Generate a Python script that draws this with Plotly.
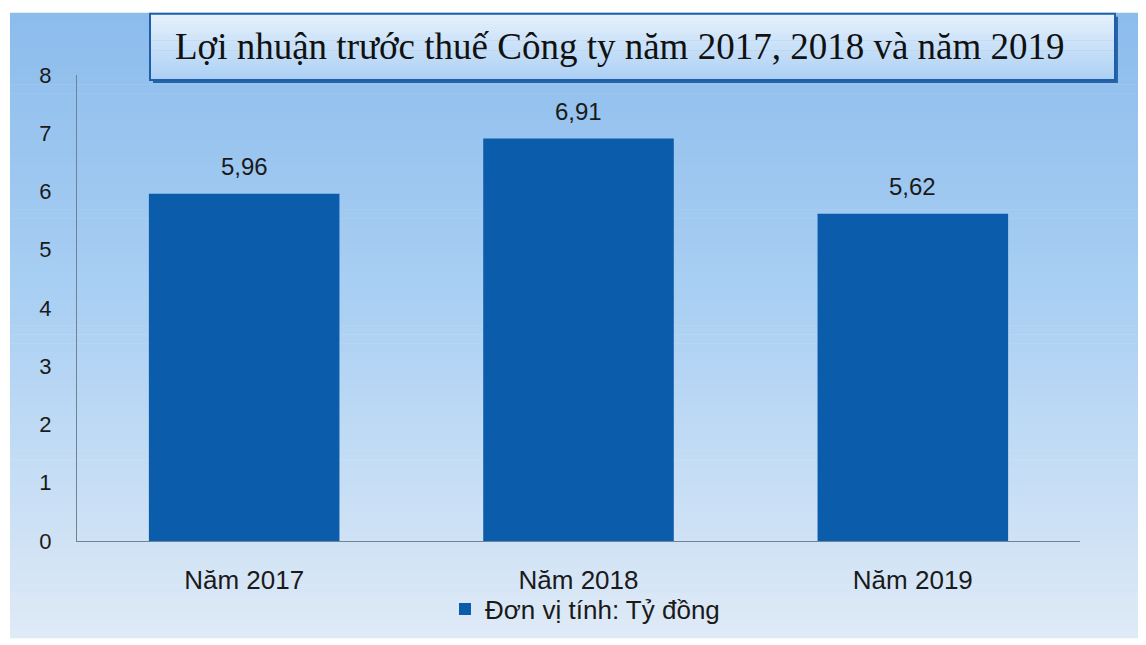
import plotly.graph_objects as go

# Data
years = ["Năm 2017", "Năm 2018", "Năm 2019"]
profit = [5.96, 6.91, 5.62]
series_name = "Đơn vị tính: Tỷ đồng"
title_text = "Lợi nhuận trước thuế Công ty năm 2017, 2018 và năm 2019"

OFF = 8  # page body margin
W, H = 1146 - OFF, 645 - OFF
L, R, T, B = 77, 1080, 75, 547  # plot area, page pixels


def px_x(p):
    return (p - L) / (R - L)


def px_y(p):
    return (B - p) / (B - T)


def mix(c1, c2, t):
    a = [int(c1[i:i + 2], 16) for i in (1, 3, 5)]
    b = [int(c2[i:i + 2], 16) for i in (1, 3, 5)]
    return "#%02x%02x%02x" % tuple(round(a[k] + (b[k] - a[k]) * t) for k in range(3))


def gradient_bands(x0, x1, y0, y1, stops, n):
    out = []
    step = (y1 - y0) / n
    for i in range(n):
        t = (i + 0.5) / n
        for j in range(len(stops) - 1):
            if stops[j][0] <= t <= stops[j + 1][0]:
                tt = (t - stops[j][0]) / (stops[j + 1][0] - stops[j][0])
                col = mix(stops[j][1], stops[j + 1][1], tt)
                break
        out.append(dict(type="rect", xref="paper", yref="paper", layer="below",
                        x0=px_x(x0), x1=px_x(x1),
                        y0=px_y(y0 + i * step), y1=px_y(y0 + (i + 1) * step + 0.6),
                        line=dict(width=0), fillcolor=col))
    return out


shapes = gradient_bands(10, 1150, 12, 645,
                        [(0, "#8cbcec"), (0.45, "#a9cff3"), (1, "#dfeaf6")], 70)

# title box: shadow, then gradient fill, then border
shapes.append(dict(type="rect", xref="paper", yref="paper", layer="below",
                   x0=px_x(153), x1=px_x(1118), y0=px_y(16), y1=px_y(83),
                   line=dict(width=0), fillcolor="#2a64a8"))
shapes += gradient_bands(150, 1115, 13, 80,
                         [(0, "#e6f1fc"), (1, "#acd0f4")], 20)
shapes.append(dict(type="rect", xref="paper", yref="paper", layer="below",
                   x0=px_x(150), x1=px_x(1115), y0=px_y(13), y1=px_y(80),
                   line=dict(width=2, color="#1d5fa8"), fillcolor="rgba(0,0,0,0)"))

fig = go.Figure(go.Bar(
    x=years,
    y=profit,
    name=series_name,
    marker=dict(color="#0b5cab", line=dict(width=0)),
    width=0.57,
    showlegend=True,
))

# value labels placed on the data coordinates
labels = [dict(x=c, y=v, xref="x", yref="y", text=f"{v:.2f}".replace(".", ","),
               showarrow=False, yanchor="middle", yshift=27,
               font=dict(family="Liberation Sans, Arial", size=24, color="#1a1a1a"))
          for c, v in zip(years, profit)]

fig.update_layout(
    width=W, height=H,
    margin=dict(l=L - OFF, r=W + OFF - R, t=T - OFF, b=H + OFF - B),
    paper_bgcolor="white",
    plot_bgcolor="rgba(0,0,0,0)",
    separators=",.",
    font=dict(family="Liberation Sans, Arial", size=22, color="#1a1a1a"),
    shapes=shapes,
    annotations=labels + [dict(text=title_text, xref="paper", yref="paper",
                               x=px_x(620), y=px_y(46), showarrow=False,
                               xanchor="center", yanchor="middle",
                               font=dict(family="Liberation Serif, Times New Roman",
                                         size=37, color="#111111"))],
    legend=dict(orientation="h", x=px_x(585), xanchor="center",
                y=px_y(616), yanchor="middle", bgcolor="rgba(0,0,0,0)",
                font=dict(size=26, color="#1a1a1a"), itemwidth=30),
)
fig.update_xaxes(showline=True, linecolor="#6f8394", linewidth=1,
                 showgrid=False, ticks="", tickfont=dict(size=26),
                 ticklabelstandoff=16)
fig.update_yaxes(range=[0, 8], dtick=1, showline=True, linecolor="#6f8394",
                 linewidth=1, showgrid=False, zeroline=False, ticks="",
                 tickfont=dict(size=22), ticklabelstandoff=20)

fig.write_html("out.html")
